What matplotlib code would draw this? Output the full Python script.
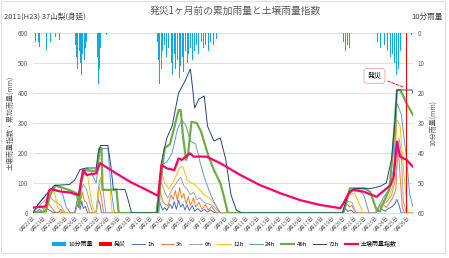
import matplotlib.pyplot as plt

plt.rcParams['font.family'] = ['Noto Sans CJK JP', 'DejaVu Sans']

# x positions are days from the first label (8/22)
date_labels = [f"8月{d}日" for d in range(22, 32)] + [f"9月{d}日" for d in range(1, 27)]

# 10-min rain bars (right axis, mm)
rain_day = [0.2, 0.5, 0.65, 1.28, 1.59, 2.06, 2.52,
            3.95, 4.1, 4.2, 4.3, 4.45, 4.55, 4.65, 4.8, 4.9, 5.0,
            6.0, 6.1, 6.2, 6.3, 6.9,
            11.6, 11.75, 11.85, 12.0, 12.1, 12.3, 12.5, 12.7, 12.9, 13.05, 13.2, 13.35,
            13.5, 13.65, 13.8, 13.95, 14.1, 14.25, 14.4, 14.55, 14.7, 14.9, 15.1, 15.3,
            15.5, 15.7, 15.9, 16.1, 16.4, 16.6, 16.9, 17.1,
            29.0, 29.2, 29.4, 29.6, 29.8,
            32.2, 32.5, 32.8, 33.1, 33.4, 33.6, 33.8, 34.0, 34.15, 34.3, 35.4]
rain_mm = [2.9, 2.9, 4.6, 5.7, 2.9, 1.2, 2.3,
           4, 8, 12, 6, 10, 14, 7, 9, 5, 3,
           8, 17, 12, 5, 0.7,
           3, 9, 17, 12, 6, 4, 8, 5, 10, 14, 7, 12,
           9, 15, 11, 8, 13, 6, 10, 7, 5, 9, 6, 4,
           7, 3, 5, 4, 6, 3, 4, 2,
           3, 6, 4, 5, 2,
           3, 5, 4, 6, 8, 7, 10, 14, 12, 6, 0.5]
disaster_day = 34.9

h1 = [(0, 0), (0.15, 8), (0.3, 3), (0.6, 12), (0.9, 4), (1.3, 15), (1.6, 8), (1.9, 2), (2.3, 0), (2.5, 6),
      (2.7, 0), (3.9, 0), (4.1, 20), (4.25, 35), (4.4, 12), (4.55, 40), (4.7, 15), (4.9, 22), (5.1, 0),
      (5.9, 0), (6.1, 45), (6.25, 30), (6.4, 0), (11.5, 0), (11.8, 40), (11.95, 25), (12.1, 10), (12.3, 18),
      (12.5, 8), (12.8, 30), (13.0, 15), (13.2, 38), (13.4, 12), (13.6, 42), (13.8, 20), (14.0, 30),
      (14.2, 10), (14.4, 28), (14.6, 8), (14.9, 25), (15.1, 6), (15.4, 15), (15.7, 4), (16.0, 12),
      (16.3, 3), (16.6, 10), (16.9, 2), (17.2, 0), (28.9, 0), (29.2, 15), (29.4, 5), (29.7, 10), (30.0, 0),
      (32.0, 0), (32.3, 8), (32.6, 12), (32.9, 6), (33.2, 15), (33.5, 20), (33.8, 30), (34.0, 45),
      (34.2, 25), (34.4, 0), (35.5, 0)]
h3 = [(0, 0), (0.3, 15), (0.7, 25), (1.0, 12), (1.4, 35), (1.7, 20), (2.0, 5), (2.4, 0), (2.6, 12), (2.9, 0),
      (3.9, 0), (4.2, 45), (4.4, 30), (4.6, 70), (4.8, 40), (5.0, 35), (5.3, 0), (5.9, 0), (6.15, 90),
      (6.35, 60), (6.6, 0), (11.5, 0), (11.85, 80), (12.1, 40), (12.3, 30), (12.6, 25), (12.9, 60),
      (13.1, 45), (13.3, 75), (13.5, 40), (13.7, 85), (13.9, 50), (14.1, 65), (14.3, 30), (14.5, 55),
      (14.7, 25), (15.0, 50), (15.2, 20), (15.5, 35), (15.8, 12), (16.1, 28), (16.4, 10), (16.7, 22),
      (17.0, 5), (17.3, 0), (28.9, 0), (29.3, 30), (29.6, 20), (29.8, 25), (30.1, 0), (32.0, 0),
      (32.4, 20), (32.7, 30), (33.0, 18), (33.3, 35), (33.6, 50), (33.9, 80), (34.1, 230), (34.3, 120),
      (34.5, 20), (34.7, 0), (35.5, 0)]
h6 = [(0, 0), (0.4, 20), (0.9, 35), (1.5, 55), (2.0, 40), (2.6, 25), (3.0, 0), (3.9, 0), (4.3, 60),
      (4.7, 95), (5.0, 80), (5.4, 20), (5.6, 0), (5.9, 0), (6.2, 110), (6.5, 90), (6.8, 0), (11.5, 0),
      (11.9, 110), (12.3, 70), (12.6, 50), (13.0, 80), (13.4, 100), (13.8, 120), (14.1, 90), (14.4, 80),
      (14.7, 60), (15.0, 70), (15.3, 45), (15.6, 50), (16.0, 35), (16.4, 30), (16.8, 25), (17.2, 10),
      (17.5, 0), (28.9, 0), (29.4, 40), (29.8, 35), (30.2, 0), (32.0, 0), (32.5, 30), (33.0, 35),
      (33.5, 60), (33.9, 120), (34.2, 250), (34.4, 200), (34.6, 40), (34.9, 0), (35.5, 0)]
h12 = [(0, 0), (0.5, 30), (1.0, 50), (1.6, 78), (2.0, 70), (2.3, 20), (2.6, 5), (3.0, 0), (3.9, 0),
       (4.4, 80), (4.8, 140), (5.1, 125), (5.5, 30), (5.8, 0), (6.0, 20), (6.3, 120), (6.5, 77), (7.2, 77),
       (7.4, 0), (11.5, 0), (11.9, 150), (12.3, 100), (12.7, 80), (13.2, 110), (13.7, 150), (14.0, 155),
       (14.4, 110), (14.8, 100), (15.1, 95), (15.5, 80), (16.0, 60), (16.5, 50), (17.0, 30), (17.5, 0),
       (28.9, 0), (29.5, 60), (30.0, 66), (30.4, 40), (30.8, 0), (32.0, 0), (32.6, 40), (33.2, 50),
       (33.7, 100), (34.0, 310), (34.3, 290), (34.6, 150), (35.0, 0), (35.5, 0)]
h24 = [(0, 0), (0.5, 30), (1.2, 60), (2.0, 90), (2.6, 85), (3.1, 20), (3.5, 0), (3.9, 0), (4.5, 110),
       (5.0, 150), (5.4, 140), (5.9, 100), (6.3, 215), (7.0, 215), (7.3, 80), (7.6, 0), (11.5, 0),
       (12.0, 160), (12.5, 170), (13.0, 200), (13.5, 280), (13.9, 310), (14.3, 290), (14.7, 240),
       (15.2, 230), (15.6, 170), (16.0, 120), (16.5, 70), (17.0, 30), (17.5, 0), (28.9, 0), (29.5, 70),
       (30.3, 82), (30.9, 60), (31.4, 0), (32.0, 0), (32.7, 50), (33.3, 80), (33.7, 150), (34.0, 365),
       (34.4, 330), (34.9, 180), (35.2, 60), (35.5, 20)]
h48 = [(0, 0), (1.2, 5), (1.6, 60), (2.1, 92), (3.5, 75), (4.1, 65), (4.3, 20), (4.5, 100), (4.7, 143),
       (5.8, 140), (6.0, 150), (6.2, 216), (6.4, 216), (6.5, 77), (7.8, 77), (8.0, 0), (11.7, 0),
       (11.9, 100), (12.3, 216), (12.8, 230), (13.3, 300), (13.6, 343), (13.8, 343), (14.0, 260),
       (14.3, 177), (14.5, 200), (14.8, 304), (15.3, 300), (15.7, 271), (16.3, 200), (16.9, 143),
       (17.5, 100), (17.8, 60), (18.2, 0), (29.0, 0), (29.3, 40), (29.6, 82), (31.0, 82), (31.5, 70),
       (32.1, 10), (32.4, 5), (32.8, 40), (33.3, 80), (33.6, 200), (34.0, 410), (34.3, 410), (34.6, 390),
       (34.9, 365), (35.5, 327)]
h72 = [(0, 0), (0.5, 30), (1.2, 60), (2.0, 92), (3.4, 95), (3.9, 110), (4.4, 145), (5.0, 150), (5.9, 150),
       (6.1, 200), (6.3, 225), (7.0, 225), (7.3, 150), (7.5, 80), (8.6, 78), (9.0, 30), (9.2, 0), (11.6, 0),
       (12.0, 170), (12.5, 250), (13.0, 290), (13.6, 400), (14.2, 440), (14.7, 480), (14.9, 420),
       (15.1, 350), (15.5, 380), (16.0, 390), (16.3, 290), (16.9, 240), (17.5, 250), (18.0, 180),
       (18.5, 60), (19.0, 10), (19.5, 0), (28.9, 0), (29.5, 70), (30.0, 82), (31.6, 82), (32.0, 85),
       (32.5, 90), (33.0, 100), (33.5, 180), (33.8, 300), (34.0, 410), (35.4, 410), (35.5, 400)]
soil = [(0, 18), (1.2, 22), (1.5, 75), (1.7, 80), (2.5, 72), (3.0, 70), (3.5, 68), (4.0, 62), (4.3, 60),
        (4.5, 110), (4.7, 143), (5.0, 127), (5.9, 132), (6.26, 166), (7.5, 138), (9.07, 104), (10.6, 77),
        (11.7, 57), (12.0, 160), (12.5, 149), (13.2, 143), (13.6, 182), (13.9, 177), (14.67, 199),
        (15.0, 188), (16.2, 188), (17.5, 166), (19.35, 127), (21.2, 93), (23.1, 66), (24.95, 43),
        (26.8, 27), (28.7, 16), (29.0, 32), (29.5, 66), (29.9, 77), (30.9, 71), (32.1, 54), (32.5, 66),
        (33.4, 93), (33.7, 121), (34.0, 238), (34.3, 188), (34.9, 177), (35.5, 154)]

series = [("1h", h1, '#4472C4', 0.7), ("3h", h3, '#ED7D31', 0.7), ("6h", h6, '#A5A5A5', 0.7),
          ("12h", h12, '#FFC000', 0.7), ("24h", h24, '#5B9BD5', 0.7), ("48h", h48, '#70AD47', 1.6),
          ("72h", h72, '#264478', 0.7)]

fig = plt.figure(figsize=(4.49, 2.58), dpi=100)
ax = fig.add_axes([33 / 449, 45 / 258, 380 / 449, 180 / 258])
ax2 = ax.twinx()

for name, pts, col, lw in series:
    ax.plot([p[0] for p in pts], [p[1] for p in pts], color=col, lw=lw, label=name)
ax.plot([p[0] for p in soil], [p[1] for p in soil], color='#FF0066', lw=1.6, label='土壌雨量指数')

ax2.bar(rain_day, rain_mm, width=0.09, color='#12A8E8', linewidth=0, label='10分雨量')
ax2.bar([disaster_day], [60], width=0.15, color='#FF0000', linewidth=0, label='発災')

ax.set_xlim(0, 35.5)
ax.set_ylim(0, 600)
ax2.set_ylim(60, 0)
ax.set_yticks(range(0, 601, 100))
ax2.set_yticks(range(0, 61, 10))
ax.set_xticks(range(len(date_labels)))
ax.set_xticklabels(date_labels, rotation=45, ha='right', rotation_mode='anchor', fontsize=3.8, color='#595959')
ax.tick_params(axis='y', labelsize=4.5, colors='#595959', length=0)
ax2.tick_params(axis='y', labelsize=4.5, colors='#595959', length=0)
ax.tick_params(axis='x', length=0, pad=2)
ax.grid(axis='y', color='#D9D9D9', lw=0.6)
ax.set_axisbelow(True)
for a in (ax, ax2):
    for s in ('top', 'left', 'right'):
        a.spines[s].set_visible(False)
    a.spines['bottom'].set_color('#D9D9D9')
    a.spines['bottom'].set_linewidth(0.6)

ax.set_ylabel('土壌雨量指数・累加雨量(mm)', fontsize=5, color='#595959', labelpad=3)
ax2.set_ylabel('10分雨量(mm)', fontsize=5, color='#595959', labelpad=3)

ax.annotate('発災', xy=(34.8, 417), xytext=(31.9, 457), fontsize=5, ha='center', va='center',
            bbox=dict(boxstyle='round,pad=0.5', fc='white', ec='#F4A0B0', lw=0.6),
            arrowprops=dict(arrowstyle='-', color='#FF0000', ls='--', lw=0.6))

fig.text(0.01, 0.925, '2011(H23) 37山梨(身延)', fontsize=5.5, color='#404040')
fig.text(0.525, 0.945, '発災1ヶ月前の累加雨量と土壌雨量指数', fontsize=7, color='#595959', ha='center')
fig.text(0.985, 0.925, '10分雨量', fontsize=5.5, color='#404040', ha='right')

h_a, l_a = ax.get_legend_handles_labels()
h_b, l_b = ax2.get_legend_handles_labels()
fig.legend(h_b + h_a, l_b + l_a, loc='center', bbox_to_anchor=(0.5, 0.055), ncol=10, fontsize=4.3,
           frameon=False, handlelength=2.2, columnspacing=1.0, handletextpad=0.4)

fig.patches.append(plt.Rectangle((0.002, 0.02), 0.99, 0.975, transform=fig.transFigure,
                                 fill=False, ec='#D9D9D9', lw=0.6))
fig.savefig('out.png', dpi=100)
